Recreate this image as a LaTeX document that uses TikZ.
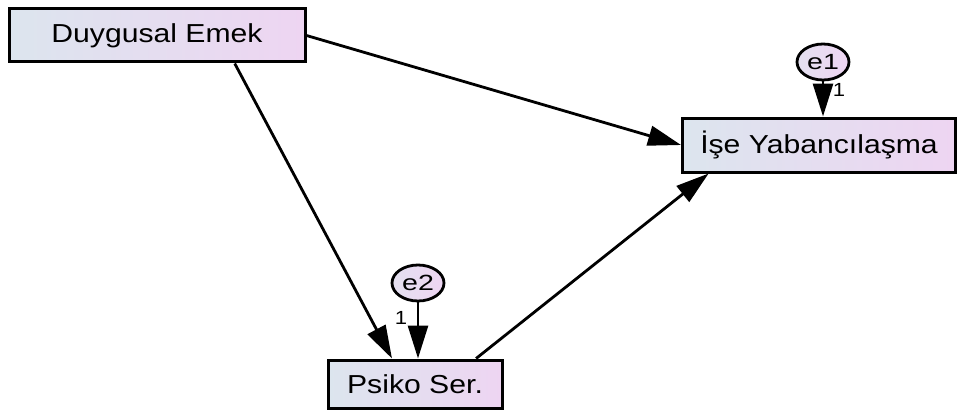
\documentclass[tikz,border=0pt]{standalone}
\usepackage{fontspec}
\setmainfont{Liberation Sans}
\usetikzlibrary{arrows.meta,calc,shapes.geometric}
\definecolor{boxleft}{HTML}{DCE5EE}
\definecolor{boxright}{HTML}{EED5F2}
\definecolor{errleft}{HTML}{E4E0F0}
\definecolor{errright}{HTML}{EED5F2}
\newcommand{\wide}[1]{\scalebox{1.16}[1]{#1}}
\newcommand{\wider}[1]{\scalebox{1.3}[1]{#1}}
\tikzset{
  varbox/.style={draw=black, line width=3pt, rectangle, inner sep=0pt,
    left color=boxleft, right color=boxright,
    font=\fontsize{26}{28}\selectfont},
  errvar/.style={draw=black, line width=2.8pt, ellipse, inner sep=0pt,
    minimum width=52pt, minimum height=36pt,
    left color=errleft, right color=errright,
    font=\fontsize{22}{24}\selectfont},
  sempath/.style={line width=2.8pt, -{Triangle[length=33pt,width=20pt]}},
  weight/.style={font=\fontsize{19}{21}\selectfont, inner sep=0pt},
}
\begin{document}
\begin{tikzpicture}[x=1pt,y=-1pt]
  \useasboundingbox (0,0) rectangle (958,412);
  % observed variables
  \node[varbox, minimum width=296pt, minimum height=53pt] (due) at (157,35.5) {\wide{Duygusal Emek}};
  \node[varbox, minimum width=273pt, minimum height=54pt] (ise) at (819,145) {\wide{İşe Yabancılaşma}};
  \node[varbox, minimum width=174pt, minimum height=48pt] (psi) at (415,384) {\wide{Psiko Ser.}};
  % error terms
  \node[errvar] (e1) at (823,62) {\wider{e1}};
  \node[errvar] (e2) at (418,283) {\wider{e2}};
  % structural paths
  \draw[sempath] (due.east) -- (ise.west);
  \draw[sempath] ($(due.south west)!0.76!(due.south east)$) -- ($(psi.north west)!0.37!(psi.north east)$);
  \draw[sempath] ($(psi.north west)!0.845!(psi.north east)$) -- ($(ise.south west)!0.10!(ise.south east)$);
  % error paths with fixed weights
  \draw[sempath] (e1.south) -- (e1.south |- ise.north);
  \draw[sempath] (e2.south) -- (e2.south |- psi.north);
  \node[weight] (w1) at (839,90) {\wide{1}};
  \node[weight] (w2) at (401,318) {\wide{1}};
\end{tikzpicture}
\end{document}
